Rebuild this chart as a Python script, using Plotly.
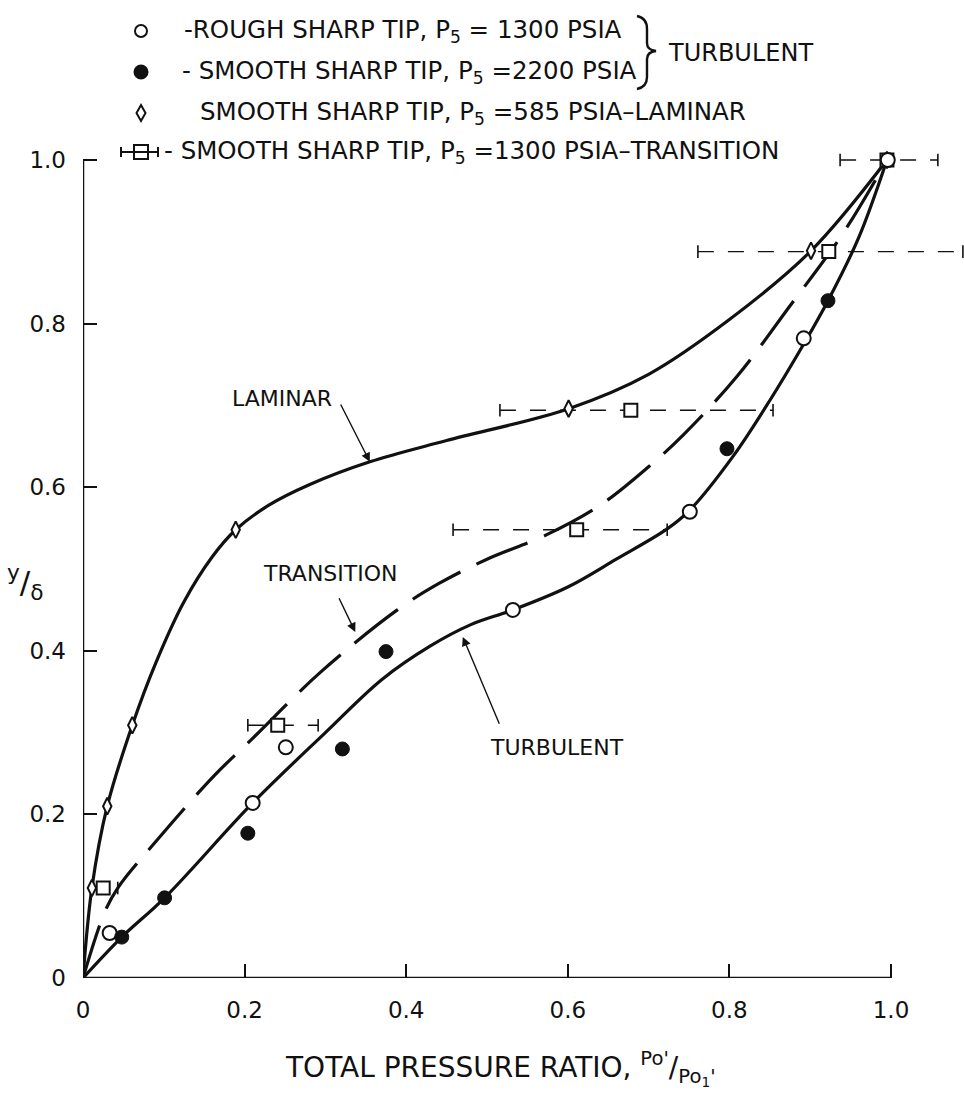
import plotly.graph_objects as go

# ---------------- data ----------------
# Rough sharp tip, P5 = 1300 psia (turbulent) - open circles
x_rough = [0.033, 0.210, 0.251, 0.532, 0.751, 0.892, 0.996]
y_rough = [0.055, 0.214, 0.282, 0.450, 0.570, 0.782, 1.000]
# Smooth sharp tip, P5 = 2200 psia (turbulent) - filled circles
x_smooth = [0.048, 0.101, 0.204, 0.321, 0.375, 0.797, 0.922]
y_smooth = [0.050, 0.098, 0.177, 0.280, 0.399, 0.647, 0.828]
# Smooth sharp tip, P5 = 585 psia (laminar) - diamonds
x_lam = [0.011, 0.030, 0.061, 0.189, 0.601, 0.901, 0.995]
y_lam = [0.110, 0.210, 0.309, 0.548, 0.696, 0.889, 1.000]
# Smooth sharp tip, P5 = 1300 psia (transition) - squares with ranges
x_tr = [0.025, 0.241, 0.611, 0.678, 0.923, 0.995]
y_tr = [0.110, 0.309, 0.548, 0.694, 0.888, 1.000]
tr_lo = [0.012, 0.204, 0.458, 0.516, 0.761, 0.937]
tr_hi = [0.043, 0.291, 0.723, 0.854, 1.089, 1.058]

# faired curves
lam_cx = [0, 0.011, 0.030, 0.061, 0.090, 0.125, 0.160, 0.189, 0.230, 0.280, 0.355, 0.450, 0.601, 0.700, 0.800, 0.901, 0.995]
lam_cy = [0, 0.110, 0.210, 0.309, 0.385, 0.460, 0.515, 0.548, 0.578, 0.603, 0.631, 0.657, 0.696, 0.738, 0.805, 0.889, 1.000]
tra_cx = [0, 0.027, 0.043, 0.092, 0.163, 0.210, 0.293, 0.389, 0.440, 0.500, 0.574, 0.640, 0.700, 0.743, 0.809, 0.873, 0.941, 0.995]
tra_cy = [0, 0.081, 0.110, 0.169, 0.248, 0.293, 0.373, 0.450, 0.482, 0.512, 0.542, 0.578, 0.625, 0.664, 0.735, 0.819, 0.911, 1.000]
tur_cx = [0, 0.048, 0.101, 0.210, 0.300, 0.370, 0.430, 0.480, 0.532, 0.600, 0.660, 0.723, 0.751, 0.804, 0.850, 0.892, 0.922, 0.960, 0.995]
tur_cy = [0, 0.050, 0.098, 0.214, 0.300, 0.365, 0.406, 0.432, 0.450, 0.478, 0.512, 0.549, 0.572, 0.637, 0.706, 0.775, 0.828, 0.905, 1.000]

tick_vals = [0, 0.2, 0.4, 0.6, 0.8, 1.0]
tick_text = ["0", "0.2", "0.4", "0.6", "0.8", "1.0"]

legend_texts = [
    "-ROUGH SHARP TIP, P<sub>5</sub> = 1300 PSIA",
    "- SMOOTH SHARP TIP, P<sub>5</sub> =2200 PSIA",
    "SMOOTH SHARP TIP, P<sub>5</sub> =585 PSIA\u2013LAMINAR",
    "- SMOOTH SHARP TIP, P<sub>5</sub> =1300 PSIA\u2013TRANSITION",
]

# ---------------- styling / layout ----------------
FONT = "DejaVu Sans"
INK = "#111111"
W, H = 964, 1098
L, R, T, B = 83, 0, 136, 120
PW, PH = W - L - R, H - T - B


def paper(px, py):
    return (px - L) / PW, (H - B - py) / PH


fig = go.Figure()

# horizontal ranges of the transition data (dashed) with end ticks
ex, ey = [], []
for lo, hi, yy in zip(tr_lo, tr_hi, y_tr):
    ex += [lo, hi, None]
    ey += [yy, yy, None]
fig.add_trace(go.Scatter(x=ex, y=ey, mode="lines", hoverinfo="skip",
                         line=dict(color=INK, width=1.4, dash="16px,14px")))
fig.add_trace(go.Scatter(x=tr_lo + tr_hi, y=y_tr + y_tr, mode="markers", cliponaxis=False,
                         marker=dict(symbol="line-ns", size=9, line=dict(color=INK, width=1.6))))

# faired curves
fig.add_trace(go.Scatter(x=lam_cx, y=lam_cy, mode="lines",
                         line=dict(color=INK, width=3.2, shape="spline", smoothing=1.0)))
fig.add_trace(go.Scatter(x=tra_cx, y=tra_cy, mode="lines",
                         line=dict(color=INK, width=3.2, shape="spline", smoothing=1.0, dash="55px,18px")))
fig.add_trace(go.Scatter(x=tur_cx, y=tur_cy, mode="lines",
                         line=dict(color=INK, width=3.2, shape="spline", smoothing=1.0)))

# data symbols
fig.add_trace(go.Scatter(x=x_tr, y=y_tr, mode="markers", cliponaxis=False,
                         marker=dict(symbol="square", size=13, color="white", line=dict(color=INK, width=2))))
fig.add_trace(go.Scatter(x=x_lam, y=y_lam, mode="markers", cliponaxis=False,
                         marker=dict(symbol="diamond-tall", size=12, color="white", line=dict(color=INK, width=2))))
fig.add_trace(go.Scatter(x=x_rough, y=y_rough, mode="markers", cliponaxis=False,
                         marker=dict(symbol="circle", size=14, color="white", line=dict(color=INK, width=2))))
fig.add_trace(go.Scatter(x=x_smooth, y=y_smooth, mode="markers", cliponaxis=False,
                         marker=dict(symbol="circle", size=14, color=INK, line=dict(color=INK, width=1))))

shapes = []
# axis lines (bottom to x=1, left to y=1)
shapes.append(dict(type="line", xref="x", yref="y", x0=0, y0=0, x1=1.0, y1=0,
                   line=dict(color=INK, width=2.5)))
shapes.append(dict(type="line", xref="x", yref="y", x0=0, y0=0, x1=0, y1=1.0,
                   line=dict(color=INK, width=2.5)))

# legend key symbols (pixel-sized, anchored in paper space)
key_x = 141
key_y = [31, 72, 113, 152]


def pix_shape(kind, cx, cy, x0, y0, x1, y1, fill, width=2):
    ax_, ay_ = paper(cx, cy)
    d = dict(type=kind, xref="paper", yref="paper", xsizemode="pixel", ysizemode="pixel",
             xanchor=ax_, yanchor=ay_, x0=x0, x1=x1, y0=y0, y1=y1,
             line=dict(color=INK, width=width))
    if fill is not None:
        d["fillcolor"] = fill
    return d


shapes.append(pix_shape("circle", key_x, key_y[0], -6, -6, 6, 6, "white"))
shapes.append(pix_shape("circle", key_x, key_y[1], -6.5, -6.5, 6.5, 6.5, INK))
ax_, ay_ = paper(key_x, key_y[2])
shapes.append(dict(type="path", xref="paper", yref="paper", xsizemode="pixel", ysizemode="pixel",
                   xanchor=ax_, yanchor=ay_, path="M 0,8 L 4.5,0 L 0,-8 L -4.5,0 Z",
                   fillcolor="white", line=dict(color=INK, width=2)))
shapes.append(pix_shape("rect", key_x, key_y[3], -7, -7, 7, 7, "white"))
shapes.append(pix_shape("line", key_x, key_y[3], -20, 0, 17, 0, None, 2))
shapes.append(pix_shape("line", key_x, key_y[3], -20, -5, -20, 5, None, 2))
shapes.append(pix_shape("line", key_x, key_y[3], 17, -5, 17, 5, None, 2))

# brace grouping the two turbulent entries
bp = [(637, 16), (647, 18), (647, 29), (647, 43), (647, 50), (656, 51), (647, 52), (647, 59),
      (647, 77), (647, 87), (637, 89)]
P = [paper(*p) for p in bp]
path = (f"M {P[0][0]},{P[0][1]} Q {P[1][0]},{P[1][1]} {P[2][0]},{P[2][1]} "
        f"L {P[3][0]},{P[3][1]} Q {P[4][0]},{P[4][1]} {P[5][0]},{P[5][1]} "
        f"Q {P[6][0]},{P[6][1]} {P[7][0]},{P[7][1]} "
        f"L {P[8][0]},{P[8][1]} Q {P[9][0]},{P[9][1]} {P[10][0]},{P[10][1]}")
shapes.append(dict(type="path", xref="paper", yref="paper", path=path,
                   line=dict(color=INK, width=2.4)))

annotations = []
text_x = [182, 180, 198, 162]
for tx, ty, t in zip(text_x, key_y, legend_texts):
    px_, py_ = paper(tx, ty)
    annotations.append(dict(x=px_, y=py_, xref="paper", yref="paper", text=t, showarrow=False,
                            xanchor="left", yanchor="middle", font=dict(family=FONT, size=24.5, color=INK)))
px_, py_ = paper(666, 53)
annotations.append(dict(x=px_, y=py_, xref="paper", yref="paper", text="TURBULENT", showarrow=False,
                        xanchor="left", yanchor="middle", font=dict(family=FONT, size=24, color=INK)))

# curve labels with leader arrows
labels = [("LAMINAR", 0.246, 0.708, 0.355, 0.631, 0.318, 0.703),
          ("TRANSITION", 0.306, 0.495, 0.337, 0.423, 0.316, 0.466),
          ("TURBULENT", 0.587, 0.282, 0.470, 0.417, 0.516, 0.309)]
for txt, lx, ly, hx, hy, tx, ty in labels:
    annotations.append(dict(x=lx, y=ly, xref="x", yref="y", text=txt, showarrow=False,
                            font=dict(family=FONT, size=22, color=INK)))
    annotations.append(dict(x=hx, y=hy, xref="x", yref="y", ax=tx, ay=ty, axref="x", ayref="y",
                            text="", showarrow=True, arrowhead=2, arrowsize=1.3, arrowwidth=1.4,
                            arrowcolor=INK))

# axis titles
px_, py_ = paper(500, 1068)
annotations.append(dict(x=px_, y=py_, xref="paper", yref="paper",
                        text="TOTAL PRESSURE RATIO, <sup>Po'</sup>/<sub>Po<sub>1</sub>'</sub>",
                        showarrow=False, xanchor="center", yanchor="middle",
                        font=dict(family=FONT, size=28, color=INK)))
px_, py_ = paper(25, 582)
annotations.append(dict(x=px_, y=py_, xref="paper", yref="paper",
                        text="<sup>y</sup>/<sub>\u03b4</sub>", showarrow=False,
                        xanchor="center", yanchor="middle", font=dict(family=FONT, size=31, color=INK)))

x_max = PW / 808.0
y_max = PH / 818.0

fig.update_layout(
    width=W, height=H, margin=dict(l=L, r=R, t=T, b=B, autoexpand=False),
    paper_bgcolor="white", plot_bgcolor="white", showlegend=False,
    shapes=shapes, annotations=annotations,
    font=dict(family=FONT, color=INK),
    xaxis=dict(range=[0, x_max], showgrid=False, zeroline=False, showline=False,
               ticks="inside", ticklen=14, tickwidth=2, tickcolor=INK,
               tickvals=tick_vals, ticktext=tick_text, ticklabelstandoff=16,
               tickfont=dict(family=FONT, size=23, color=INK)),
    yaxis=dict(range=[0, y_max], showgrid=False, zeroline=False, showline=False,
               ticks="inside", ticklen=14, tickwidth=2, tickcolor=INK,
               tickvals=tick_vals, ticktext=tick_text, ticklabelstandoff=16,
               tickfont=dict(family=FONT, size=23, color=INK)),
)

fig.write_html("out.html")
